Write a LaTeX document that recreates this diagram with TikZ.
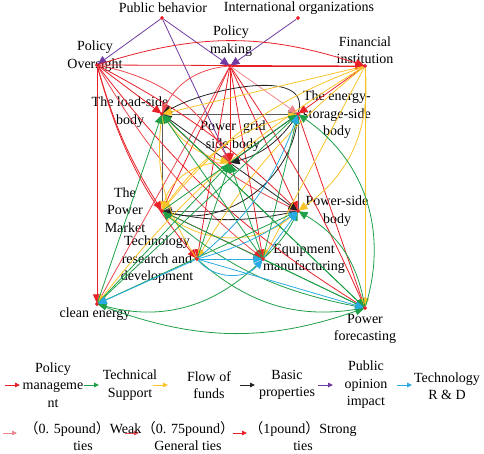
\documentclass[tikz,border=0pt]{standalone}
\usepackage{fontspec}
\setmainfont{Liberation Serif}
\newfontfamily\cjk{Noto Sans CJK SC}
\usetikzlibrary{arrows.meta}
\definecolor{redS}{RGB}{232,32,40}
\definecolor{redM}{RGB}{236,72,80}
\definecolor{redW}{RGB}{238,132,140}
\definecolor{grn}{RGB}{30,160,72}
\definecolor{ylw}{RGB}{250,196,40}
\definecolor{blk}{RGB}{35,35,35}
\definecolor{gry}{RGB}{90,90,90}
\definecolor{prp}{RGB}{112,58,160}
\definecolor{blu}{RGB}{40,170,226}
\begin{document}
\begin{tikzpicture}[x=1pt,y=1pt,
  dot/.style={circle,fill=redS,inner sep=0pt,minimum size=3.8pt},
  lab/.style={align=center,font=\fontsize{14}{17.5}\selectfont,inner sep=0pt},
  e/.style={-{Triangle[length=9pt,width=8pt]},line width=0.8pt,shorten >=-1.5pt},
  gl/.style={line width=0.9pt,draw=gry},
  le/.style={-{Triangle[length=5pt,width=4.5pt]},line width=0.9pt}]
\useasboundingbox (0,0) rectangle (484,453);
% nodes (dots)
\node[dot] (pb) at (162,435) {};
\node[dot] (io) at (298,435) {};
\node[dot] (pm) at (230,387) {};
\node[dot] (po) at (97,388) {};
\node[dot] (fi) at (365,387) {};
\node[dot] (ls) at (162,339) {};
\node[dot] (es) at (298,339) {};
\node[dot] (pg) at (230,290) {};
\node[dot] (mk) at (162,242) {};
\node[dot] (ps) at (298,242) {};
\node[dot] (trd) at (197,194) {};
\node[dot] (em) at (263,194) {};
\node[dot] (ce) at (97,149) {};
\node[dot] (pf) at (365,145) {};
% labels
\node[lab] (pbl) at (163,445) {Public behavior};
\node[lab] (iol) at (299,445) {International organizations};
\node[lab] (pml) at (231,412) {Policy\\making};
\node[lab] (pol) at (95,397) {Policy\\Oversight};
\node[lab] (fil) at (365,403) {Financial\\institution};
\node[lab] (lsl) at (130,341) {The load-side\\body};
\node[lab] (esl) at (337,338) {The energy-\\storage-side\\body};
\node[lab] (pgl) at (233,317) {Power~ grid\\side body};
\node[lab] (mkl) at (125,243) {The\\Power\\Market};
\node[lab] (psl) at (337,242) {Power-side\\body};
\node[lab] (trdl) at (157,193) {Technology\\research and\\development};
\node[lab] (eml) at (304,194) {Equipment\\manufacturing};
\node[lab] (cel) at (95,139) {clean energy};
\node[lab] (pfl) at (365,124) {Power\\forecasting};
% square (basic)
\draw[gl] (mk) -- (ls);
\draw[gl] (es) -- (ps);
\draw[e,gry] (ls) -- (es);
\draw[e,gry] (ps) -- (mk);
% purple
\draw[e,prp] (pb) -- (po);
\draw[e,prp] (pb) -- (pm);
\draw[e,prp] (pb) -- (pg);
\draw[e,prp] (io) -- (pm);
% red from policy oversight
\draw[e,redS] (po) to[bend left=18] (fi);
\draw[e,redS] (po) -- (fi);
\draw[e,redS] (po) -- (ls);
\draw[e,redS] (po) -- (ce);
\draw[e,redM] (po) to[bend left=25] (pg);
\draw[e,redS] (po) to[bend right=8] (mk);
\draw[e,redS] (po) to[bend right=12] (trd);
\draw[e,redM] (po) to[bend right=10] (em);
\draw[e,redS] (po) to[bend left=8] (ps);
\draw[e,redS] (po) to[bend right=10] (pf);
% red from policy making
\draw[e,redS] (pm) -- (fi);
\draw[e,redM] (pm) to[bend right=30] (ls);
\draw[e,redW] (pm) -- (es);
\draw[e,redS] (pm) -- (pg);
\draw[e,redS] (pm) -- (mk);
\draw[e,redS] (pm) -- (ps);
\draw[e,redS] (pm) -- (trd);
\draw[e,redS] (pm) -- (em);
\draw[e,redS] (pm) to[bend left=5] (pf);
\draw[e,redM] (pm) -- (ce);
% other red
\draw[e,redS] (fi) -- (es);
\draw[e,redS] (mk) -- (em);
\draw[e,redS] (es) -- (pf);
\draw[e,redM] (ls) to[bend right=10] (ps);
% black
\draw[e,blk] (es) to[out=75,in=30,looseness=0.9] (ls);
\draw[e,blk] (es) to[bend left=50] (mk);
\draw[e,blk] (ps) to[bend left=12] (mk);
\draw[e,blk] (pg) -- (ls);
\draw[e,blk] (pg) -- (es);
\draw[e,blk] (es) to[bend left=20] (pg);
\draw[e,blk] (pg) -- (ps);
% yellow
\draw[e,ylw] (fi) -- (ls);
\draw[e,ylw] (fi) -- (pf);
\draw[e,ylw] (fi) -- (em);
\draw[e,ylw] (fi) to[bend right=10] (trd);
\draw[e,ylw] (fi) to[bend right=15] (mk);
\draw[e,ylw] (fi) to[bend left=30] (ps);
\draw[e,ylw] (fi) to[bend right=10] (ce);
\draw[e,ylw] (trd) to[bend left=20] (ls);
\draw[e,ylw] (mk) to[bend left=20] (es);
\draw[e,ylw] (ls) to[bend right=20] (pg);
\draw[e,ylw] (pg) to[bend right=40] (mk);
\draw[e,ylw] (mk) to[bend right=40] (ps);
% green
\draw[e,grn] (ce) -- (ls);
\draw[e,grn] (ce) -- (es);
\draw[e,grn] (ce) -- (pg);
\draw[e,grn] (ce) to[bend right=20] (pf);
\draw[e,grn] (em) to[bend left=30] (ce);
\draw[e,grn] (ps) -- (ce);
\draw[e,grn] (pf) to[bend right=36] (es);
\draw[e,grn] (pf) to[bend right=25] (ps);
\draw[e,grn] (pf) to[bend left=15] (mk);
\draw[e,grn] (trd) to[bend right=25] (pf);
\draw[e,grn] (ls) -- (pf);
\draw[e,grn] (mk) -- (pf);
\draw[e,grn] (em) -- (pf);
\draw[e,grn] (em) -- (ls);
\draw[e,grn] (pf) -- (ls);
\draw[e,grn] (em) -- (pg);
\draw[e,grn] (trd) -- (pg);
\draw[e,grn] (em) to[bend right=10] (ps);
\draw[e,grn] (em) -- (es);
\draw[e,grn] (mk) -- (es);
% blue
\draw[e,blu] (trd) to[bend right=15] (es);
\draw[e,blu] (trd) to[bend right=10] (ps);
\draw[e,blu] (trd) -- (em);
\draw[e,blu] (trd) to[bend right=50] (em);
\draw[e,blu] (trd) -- (ce);
\draw[e,blu] (trd) -- (pf);
\draw[e,blu] (em) -- (ps);
% dots on top
\foreach \n in {pb,io,pm,po,fi,ls,es,pg,mk,ps,trd,em,ce,pf}
  \fill[redS] (\n) circle (1.9pt);
% legend row 1
\coordinate (a1) at (5,68);   \coordinate (b1) at (20,68);
\coordinate (a2) at (84,68);  \coordinate (b2) at (99,68);
\coordinate (a3) at (153,68); \coordinate (b3) at (168,68);
\coordinate (a4) at (240,68); \coordinate (b4) at (255,68);
\coordinate (a5) at (318,68); \coordinate (b5) at (333,68);
\coordinate (a6) at (397,68); \coordinate (b6) at (412,68);
\draw[le,redS] (a1) -- (b1);
\draw[le,grn] (a2) -- (b2);
\draw[le,ylw] (a3) -- (b3);
\draw[le,blk] (a4) -- (b4);
\draw[le,prp] (a5) -- (b5);
\draw[le,blu] (a6) -- (b6);
\node[lab] (t1) at (53,68) {Policy\\manageme\\nt};
\node[lab] (t2) at (130,68) {Technical\\Support};
\node[lab] (t3) at (209,68) {Flow of\\funds};
\node[lab] (t4) at (287,68) {Basic\\properties};
\node[lab] (t5) at (366,68) {Public\\opinion\\impact};
\node[lab] (t6) at (447,67) {Technology\\R \& D};
% legend row 2
\coordinate (c1) at (3,20);   \coordinate (d1) at (17,20);
\coordinate (c2) at (125,20); \coordinate (d2) at (139,20);
\coordinate (c3) at (233,20); \coordinate (d3) at (247,20);
\draw[le,redW,line width=0.7pt] (c1) -- (d1);
\draw[le,redM,line width=0.8pt] (c2) -- (d2);
\draw[le,redS,line width=1pt] (c3) -- (d3);
\node[lab] (w1) at (83,17) {{\cjk （}0. 5pound{\cjk ）}Weak\\ties};
\node[lab] (w2) at (188,17) {{\cjk （}0. 75pound{\cjk ）}\\General ties};
\node[lab] (w3) at (303,17) {{\cjk （}1pound{\cjk ）}Strong\\ties};
\end{tikzpicture}
\end{document}
